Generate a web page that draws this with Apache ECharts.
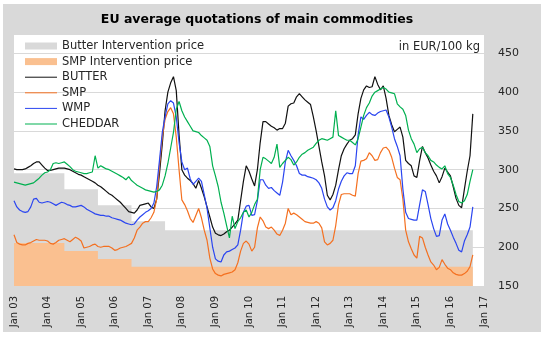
<!DOCTYPE html>
<html>
<head>
<meta charset="utf-8">
<script src="https://cdn.jsdelivr.net/npm/echarts@6/dist/echarts.min.js"></script>
<style>
  html, body { margin: 0; padding: 0; background: #fff; }
  #chart { width: 544px; height: 338px; }
</style>
</head>
<body>
<div id="chart"></div>
<script>
// Monthly EU average quotations, EUR/100 kg, January 2003 to September 2016
const START_YEAR = 2003;

const butter = [
  301, 300, 300, 300, 301, 303, 305, 308, 310, 310, 306, 302,
  299, 299, 300, 301, 302, 302, 302, 301, 300, 298, 296, 294,
  293, 291, 289, 287, 285, 283, 280, 278, 275, 272, 269, 267,
  264, 261, 258, 254, 250, 246, 245, 244, 248, 254, 255, 256,
  257, 252, 250, 262, 295, 333, 376, 400, 412, 420, 402, 345,
  300, 293, 289, 286, 282, 276, 286, 276, 265, 252, 239, 226,
  218, 216, 215, 217, 220, 222, 226, 230, 235, 260, 285, 305,
  298, 288, 279, 300, 335, 362, 362, 359, 356, 354, 351, 353,
  353, 360, 382, 385, 386, 394, 398, 394, 390, 387, 384, 368,
  350, 330, 310, 292, 267, 261, 268, 280, 300, 318, 327, 333,
  338, 340, 345, 372, 392, 403, 408, 406, 407, 420, 410, 403,
  408, 392, 370, 358, 349, 352, 355, 342, 312, 308, 305, 292,
  290, 312, 330, 322, 315, 306, 298, 292, 283, 291, 302, 297,
  292, 278, 263, 254, 251, 275, 298, 318, 372
];

const smp = [
  216, 206, 204, 203, 203, 205, 206, 208, 210, 209, 209, 209,
  208, 205, 204, 206, 209, 210, 211, 209, 207, 210, 213, 211,
  208, 199, 200, 201, 203, 204, 201, 200, 201, 201, 201, 199,
  196, 197, 199, 200, 201, 203, 205, 212, 222, 226, 231, 233,
  233, 238, 245, 262, 305, 342, 365, 375, 380, 372, 342, 300,
  261, 255, 247, 237, 232, 241, 250, 238, 222, 209, 186, 172,
  166, 164, 163, 165, 166, 167, 168, 171, 180, 195, 205, 208,
  204, 195, 200, 225, 239, 234, 226, 224, 226, 222, 217, 215,
  222, 231, 250, 242, 244, 242, 239, 236, 233, 232, 231, 231,
  233, 231, 225, 207, 203, 205, 209, 228, 255, 268, 269, 269,
  269, 267, 266, 295, 311, 312, 314, 322, 318, 312, 313, 322,
  328, 329, 325, 316, 302, 290, 287, 262, 222, 207, 198, 190,
  186, 214, 212, 200, 190, 181, 177, 171, 174, 184, 178, 173,
  171, 167, 165, 164, 164, 166, 169, 175, 190
];

const wmp = [
  260, 252, 248, 246, 245, 246, 252, 262, 263, 258, 257, 258,
  259, 258, 256, 254, 256, 258, 257, 255, 254, 252, 252, 253,
  254, 252, 249, 247, 245, 243, 242, 241, 241, 240, 240, 238,
  237, 236, 235, 233, 231, 230, 229, 230, 235, 239, 242, 245,
  247, 250, 257, 278, 312, 348, 368, 385, 389, 386, 368, 335,
  310, 300, 302, 288, 281, 285, 289, 285, 268, 250, 225, 200,
  185, 182, 181, 190, 194, 195, 197, 199, 203, 222, 245, 253,
  254, 241, 242, 260, 287, 287, 280, 276, 277, 273, 270, 267,
  284, 310, 325, 318, 312, 305, 295, 293, 293, 291, 290, 289,
  287, 283, 276, 262, 252, 248, 251, 260, 275, 285, 292, 296,
  295, 295, 305, 345, 368, 365, 370, 374, 371, 370, 373, 375,
  376, 377, 368, 355, 340, 330, 318, 275, 245, 237, 236, 235,
  235, 255, 274, 272, 255, 237, 224, 214, 215, 235, 243, 230,
  222, 213, 205, 196, 194, 208, 216, 226, 252
];

const cheddar = [
  284, 283, 282, 281, 280, 281, 282, 283, 286, 289, 293, 296,
  297, 300, 308, 309, 308, 309, 310, 307, 304, 300, 298, 297,
  296, 295, 295, 296, 297, 318, 302, 305, 303, 301, 300, 298,
  296, 294, 292, 290, 287, 291, 286, 283, 280, 278, 276, 274,
  273, 272, 271, 272, 274, 280, 292, 308, 328, 348, 378, 388,
  376, 368, 362, 356, 350, 349, 348, 344, 341, 338, 330, 305,
  292, 278, 258, 244, 228, 212, 240, 224, 233, 238, 245, 248,
  239, 245, 255, 262, 300, 316, 314, 311, 308, 316, 333, 303,
  308, 312, 316, 313, 306, 310, 316, 320, 322, 325, 327, 329,
  334, 338, 340, 339, 338, 340, 342, 376, 344, 342, 340, 338,
  338, 335, 332, 340, 355, 370, 380, 386, 395, 400, 402, 404,
  406, 404, 400, 399, 398, 385, 381, 378, 370, 351, 340, 333,
  322, 327, 329, 322, 318, 312, 310, 306, 303, 301, 305, 295,
  290, 280, 268, 259, 257, 260, 268, 285, 300
];

// Intervention (buying-in) price levels and the dates they took effect
const butterIntervDates  = [2003.0, 2004.5, 2005.5, 2006.5, 2007.5, 2016.667];
const butterIntervPrices = [295.38, 274.73, 254.16, 233.55, 221.75, 221.75];
const smpIntervDates     = [2003.0, 2004.5, 2005.5, 2006.5, 2016.667];
const smpIntervPrices    = [205.52, 195.24, 184.96, 174.69, 174.69];

const yTickMin = 150;
const yTickMax = 475;
const yTickStep = 50;

const FONT = 'DejaVu Sans';
const TEXT = '#262626';

function monthly(values) {
  return values.map((v, i) => [START_YEAR + i / 12, v]);
}
function zipPairs(xs, ys) {
  return xs.map((x, i) => [x, ys[i]]);
}

function lineSeries(name, values, color) {
  return {
    name: name,
    type: 'line',
    data: monthly(values),
    symbol: 'none',
    showSymbol: false,
    lineStyle: { width: 1.2, color: color },
    itemStyle: { color: color },
    z: 3,
    silent: true
  };
}

function stepArea(name, xs, ys, color) {
  return {
    name: name,
    type: 'line',
    step: 'end',
    data: zipPairs(xs, ys),
    symbol: 'none',
    showSymbol: false,
    lineStyle: { width: 0, color: color },
    itemStyle: { color: color },
    areaStyle: { color: color, opacity: 1, origin: 'start' },
    z: 1,
    silent: true
  };
}

const linePath = 'path://M0,0 L32,0 L32,1 L0,1 Z';

const chart = echarts.init(document.getElementById('chart'));
chart.setOption({
  animation: false,
  backgroundColor: '#ffffff',
  title: {
    text: 'EU average quotations of main commodities',
    left: 252,
    top: 8,
    textAlign: 'center',
    textStyle: { fontFamily: FONT, fontSize: 12.5, fontWeight: 'bold', color: '#000' }
  },
  graphic: [
    {
      type: 'rect',
      z: -10,
      silent: true,
      shape: { x: 3, y: 4, width: 538, height: 328 },
      style: { fill: '#d9d9d9' }
    },
    {
      type: 'text',
      z: 5,
      silent: true,
      x: 480,
      y: 47,
      style: {
        text: 'in EUR/100 kg',
        fill: TEXT,
        font: '11.5px "DejaVu Sans"',
        align: 'right',
        verticalAlign: 'middle'
      }
    }
  ],
  legend: {
    orient: 'vertical',
    left: 25,
    top: 39,
    padding: 0,
    itemWidth: 32,
    itemHeight: 7,
    itemGap: 1.6,
    selectedMode: false,
    itemStyle: { borderWidth: 0 },
    textStyle: { fontFamily: FONT, fontSize: 11.5, color: TEXT, lineHeight: 14 },
    data: [
      { name: 'Butter Intervention price', icon: 'rect' },
      { name: 'SMP Intervention price', icon: 'rect' },
      { name: 'BUTTER', icon: linePath },
      { name: 'SMP', icon: linePath },
      { name: 'WMP', icon: linePath },
      { name: 'CHEDDAR', icon: linePath }
    ]
  },
  grid: {
    left: 14,
    right: 60,
    top: 34,
    bottom: 52,
    show: true,
    backgroundColor: '#ffffff',
    borderWidth: 0
  },
  xAxis: {
    type: 'value',
    min: 2003,
    max: 2017,
    interval: 1,
    axisLine: { show: false },
    axisTick: { show: false },
    splitLine: { show: false },
    axisLabel: {
      rotate: 90,
      margin: 10,
      fontFamily: FONT,
      fontSize: 10,
      color: TEXT,
      formatter: v => 'Jan ' + String(Math.round(v) % 100).padStart(2, '0')
    }
  },
  yAxis: {
    type: 'value',
    position: 'right',
    min: yTickMin,
    max: yTickMax,
    interval: yTickStep,
    axisLine: { show: false },
    axisTick: { show: false },
    splitLine: { lineStyle: { color: '#d9d9d9', width: 1 } },
    axisLabel: {
      margin: 14,
      showMaxLabel: false,
      fontFamily: FONT,
      fontSize: 11,
      color: TEXT
    }
  },
  series: [
    stepArea('Butter Intervention price', butterIntervDates, butterIntervPrices, '#d9d9d9'),
    stepArea('SMP Intervention price', smpIntervDates, smpIntervPrices, '#fac090'),
    lineSeries('BUTTER', butter, '#111111'),
    lineSeries('SMP', smp, '#f47020'),
    lineSeries('WMP', wmp, '#2a45f0'),
    lineSeries('CHEDDAR', cheddar, '#00b050')
  ]
});
</script>
</body>
</html>
